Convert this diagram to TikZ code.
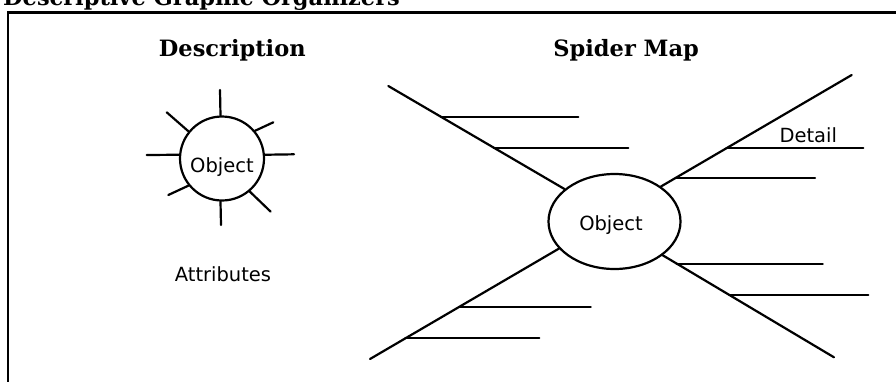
\documentclass[tikz,border=0pt]{standalone}
\usepackage{fontspec}
\usetikzlibrary{shapes.geometric,calc}
\newfontfamily\headfont{DejaVu Serif}
\newfontfamily\bodyfont{DejaVu Sans}
\begin{document}
\begin{tikzpicture}[x=1pt,y=-1pt,
  ln/.style={line width=2.2pt, line cap=round},
  head/.style={font=\headfont\bfseries\fontsize{22.5}{26}\selectfont, inner sep=0pt, anchor=base},
  lbl/.style={font=\bodyfont\fontsize{19.5}{22}\selectfont, inner sep=0pt, anchor=base},
  ring/.style={draw, line width=2.2pt, inner sep=0pt},
]
\useasboundingbox (0,0) rectangle (896,381);
\clip (0,0) rectangle (896,381);
\fill[white] (0,0) rectangle (896,381);
% frame
\coordinate (ftr) at (905,12.5);
\coordinate (ftl) at (8,12.5);
\coordinate (fbl) at (8,390);
\draw[line width=2.2pt] (ftr) -- (ftl) -- (fbl);
% headings
\node[head, anchor=base west] (title) at (3,5) {Descriptive Graphic Organizers};
\node[head] (h1) at (232.3,56) {Description};
\node[head] (h2) at (626.2,56) {Spider Map};

% ---------- Description ----------
\node[ring, circle, minimum size=84pt] (c1) at (222,158.5) {};
\node[lbl] (t1) at (222,172) {Object};
\node[lbl] (t2) at (223,281.5) {Attributes};
\coordinate (a1) at (220,90);
\coordinate (a2) at (221,225);
\coordinate (a3) at (146.7,155);
\coordinate (a4) at (294,154.3);
\coordinate (a5) at (166.7,112.3);
\coordinate (a6) at (273.3,122.3);
\coordinate (a7) at (168.3,195);
\coordinate (a8) at (270.7,211.7);
\draw[ln] (c1.92.7) -- (a1);
\draw[ln] (c1.268.6) -- (a2);
\draw[ln] (c1.175.2) -- (a3);
\draw[ln] (c1.5.8) -- (a4);
\draw[ln] (c1.141.5) -- (a5);
\draw[ln] (c1.40.8) -- (a6);
\draw[ln] (c1.219.6) -- (a7);
\draw[ln] (c1.310.1) -- (a8);

% ---------- Spider Map ----------
\node[ring, ellipse, minimum width=132pt, minimum height=95pt] (c2) at (614.5,221.5) {};
\node[lbl] (t3) at (611,230) {Object};
\coordinate (nwo) at (388.3,86);
\coordinate (neo) at (851.7,75);
\coordinate (swo) at (370,359);
\coordinate (seo) at (834,357.3);
\draw[ln] (nwo) -- (c2.147.8);
\draw[ln] (neo) -- (c2.37.4);
\draw[ln] (swo) -- (c2.206.5);
\draw[ln] (seo) -- (c2.325.5);
% branch start points on the spokes
\coordinate (nwb1) at ($(nwo)!0.300!(c2.147.8)$);
\coordinate (nwb2) at ($(nwo)!0.598!(c2.147.8)$);
\coordinate (neb1) at ($(neo)!0.655!(c2.37.4)$);
\coordinate (neb2) at ($(neo)!0.923!(c2.37.4)$);
\coordinate (swb1) at ($(swo)!0.473!(c2.206.5)$);
\coordinate (swb2) at ($(swo)!0.187!(c2.206.5)$);
\coordinate (seb1) at ($(seo)!0.918!(c2.325.5)$);
\coordinate (seb2) at ($(seo)!0.612!(c2.325.5)$);
% branch end x positions
\coordinate (nwe1) at (578.3,0);
\coordinate (nwe2) at (628.3,0);
\coordinate (nee1) at (863.3,0);
\coordinate (nee2) at (815,0);
\coordinate (swe1) at (590.7,0);
\coordinate (swe2) at (539.3,0);
\coordinate (see1) at (822.7,0);
\coordinate (see2) at (868.3,0);
\draw[ln] (nwb1) -- (nwb1 -| nwe1);
\draw[ln] (nwb2) -- (nwb2 -| nwe2);
\draw[ln] (neb1) -- (neb1 -| nee1);
\draw[ln] (neb2) -- (neb2 -| nee2);
\draw[ln] (swb1) -- (swb1 -| swe1);
\draw[ln] (swb2) -- (swb2 -| swe2);
\draw[ln] (seb1) -- (seb1 -| see1);
\draw[ln] (seb2) -- (seb2 -| see2);
\node[lbl] (t4) at (808.3,142.7) {Detail};
\end{tikzpicture}
\end{document}
